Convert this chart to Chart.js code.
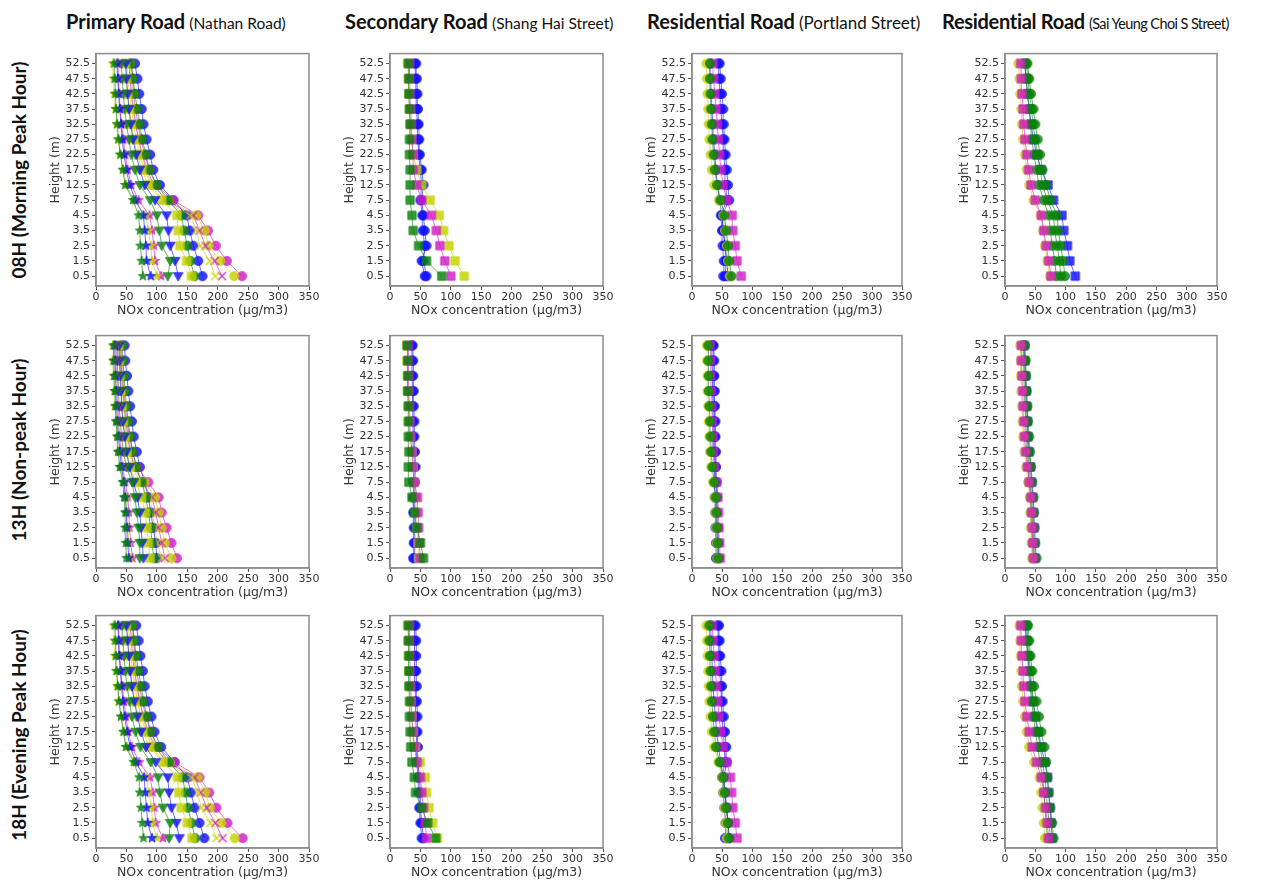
<!DOCTYPE html>
<html>
<head>
<meta charset="utf-8">
<script src="https://cdn.jsdelivr.net/npm/chart.js@4.4.0/dist/chart.umd.min.js"></script>
<style>
body{margin:0;background:#fff;width:1276px;height:885px;position:relative;overflow:hidden;font-family:Lato,sans-serif}
canvas{position:absolute}
.colt{position:absolute;top:9px;white-space:nowrap;color:#111;line-height:24px}
.colt b{font-size:20px}
.colt span{font-size:15.5px}
.rowt{position:absolute;font-weight:bold;font-size:19px;transform:translate(-50%,-50%) rotate(-90deg);white-space:nowrap;color:#111}
</style>
</head>
<body>
<div class="colt" style="left:66px"><b>Primary Road</b> <span>(Nathan Road)</span></div>
<div class="colt" style="left:345px"><b>Secondary Road</b> <span>(Shang Hai Street)</span></div>
<div class="colt" style="left:647px"><b>Residential Road</b> <span style="font-size:17px">(Portland Street)</span></div>
<div class="colt" style="left:942px"><b style="letter-spacing:-0.3px">Residential Road</b> <span style="font-size:14.5px;letter-spacing:-0.6px">(Sai Yeung Choi S Street)</span></div>
<div class="rowt" style="left:18px;top:170px">08H (Morning Peak Hour)</div>
<div class="rowt" style="left:18px;top:450px">13H (Non-peak Hour)</div>
<div class="rowt" style="left:18px;top:735px">18H (Evening Peak Hour)</div>
<script>
// tick labels
const heightLabels = ['0.5','1.5','2.5','3.5','4.5','7.5','12.5','17.5','22.5','27.5','32.5','37.5','42.5','47.5','52.5'];
const xTickValues = [0,50,100,150,200,250,300,350];

// Primary Road (Nathan Road), values bottom (0.5 m) to top (52.5 m)
const primary08 = [
  [77,75,73,72,70,61,48,44,40,37,35,33,32,31,30],
  [90,83,82,80,78,65,55,50,46,43,41,39,37,36,35],
  [100,92,90,86,82,62,50,45,40,36,34,32,30,29,28],
  [107,97,95,92,88,70,58,52,48,45,42,40,38,37,36],
  [118,122,108,104,100,89,72,64,58,54,50,47,45,43,42],
  [135,130,122,119,116,97,80,72,66,61,57,54,52,50,49],
  [157,149,138,135,133,108,86,75,68,62,58,55,52,50,48],
  [162,155,150,145,140,119,100,88,82,76,72,68,64,61,58],
  [196,187,171,165,155,110,90,80,72,66,62,58,55,53,51],
  [207,195,180,170,160,115,95,84,76,70,65,61,58,56,54],
  [227,204,185,179,165,119,92,82,75,70,66,62,60,58,56],
  [240,215,197,184,168,127,98,88,80,74,69,65,62,60,58],
  [175,168,160,154,149,127,105,94,89,83,78,75,71,68,64]
];
const primary13 = [
  [50,49,48,48,46,44,39,36,35,33,32,31,30,29,29],
  [54,52,51,50,48,46,42,39,37,35,34,33,32,31,31],
  [56,54,52,51,50,46,40,37,35,33,31,30,29,28,28],
  [60,57,55,54,52,48,44,41,39,37,36,35,34,33,33],
  [72,72,70,67,64,59,50,45,42,40,38,37,36,35,35],
  [78,76,74,72,68,62,55,50,47,44,42,41,40,39,38],
  [89,86,84,81,75,66,56,51,48,45,43,41,39,38,37],
  [95,92,90,86,82,75,66,60,56,53,50,48,46,44,43],
  [108,100,97,92,89,72,60,54,50,47,45,43,41,40,39],
  [113,108,103,98,92,76,63,56,52,49,46,44,42,41,40],
  [124,113,108,103,97,80,64,57,53,50,47,45,43,42,41],
  [133,124,116,108,103,86,68,60,55,51,48,46,44,43,42],
  [100,98,94,90,86,80,72,67,62,59,56,53,51,48,47]
];
const primary18 = [
  [78,76,74,72,71,62,49,45,41,38,36,34,33,32,31],
  [92,85,83,81,79,66,56,51,47,44,42,40,38,37,36],
  [100,93,91,87,83,63,51,46,41,37,35,33,31,30,29],
  [110,98,96,93,89,71,59,53,49,46,43,41,39,38,37],
  [120,122,110,105,102,90,73,65,59,55,51,48,46,44,43],
  [137,132,124,120,118,98,82,74,68,63,59,56,54,52,50],
  [158,150,140,136,134,110,88,77,70,64,60,57,54,52,50],
  [163,157,151,147,142,120,102,90,84,78,74,70,66,63,60],
  [198,188,173,167,157,112,92,82,74,68,64,60,57,55,53],
  [208,196,182,172,162,117,97,86,78,72,67,63,60,58,56],
  [228,206,187,180,167,121,94,84,77,72,68,64,62,60,58],
  [241,216,198,186,170,129,100,90,82,76,71,67,64,62,60],
  [178,170,162,156,150,129,107,96,91,85,80,77,73,70,66]
];

// Secondary Road (Shang Hai Street)
const secondary08 = [
  [85,60,47,38,36,33,33,33,32,32,33,32,31,31,30],
  [100,90,82,76,68,52,44,38,38,36,35,34,33,32,32],
  [122,107,97,88,81,66,52,44,38,35,33,32,31,30,29],
  [60,55,57,54,53,50,52,50,47,46,45,44,43,42,41],
  [57,52,60,57,55,52,55,52,49,48,47,46,45,44,43]
];
const secondary13 = [
  [55,50,44,40,36,31,30,31,30,30,30,29,29,29,28],
  [50,48,47,46,45,40,37,36,34,33,32,31,31,30,30],
  [47,46,44,43,42,40,38,36,33,31,30,29,29,28,28],
  [38,39,39,38,38,38,40,39,38,38,37,37,36,36,36],
  [40,41,41,40,40,41,42,41,40,40,39,39,38,38,37]
];
const secondary18 = [
  [75,62,52,42,40,36,34,33,32,32,31,31,31,30,30],
  [60,58,55,52,50,44,40,37,36,35,34,33,33,32,32],
  [78,70,64,60,58,50,42,38,36,34,32,31,30,30,29],
  [52,50,48,47,46,44,44,43,42,42,41,41,40,40,40],
  [55,52,50,50,48,46,46,45,45,44,44,43,43,43,42]
];

// Residential Road (Portland Street)
const portland08 = [
  [66,62,60,57,54,48,42,38,36,34,33,32,31,30,30],
  [63,60,58,55,52,45,37,33,31,29,28,27,26,25,24],
  [82,75,72,68,67,58,52,48,46,44,42,40,38,36,35],
  [60,58,55,52,50,46,42,40,38,36,35,33,32,31,30],
  [52,53,51,50,48,58,56,55,53,52,50,48,47,45,44],
  [55,57,55,52,50,62,60,58,56,54,53,52,50,48,46]
];
const portland13 = [
  [44,43,42,41,40,37,34,32,31,30,29,28,28,27,27],
  [42,41,40,39,38,35,32,30,29,28,27,26,26,25,25],
  [47,46,45,44,43,41,38,36,35,34,33,32,31,31,30],
  [40,40,39,39,38,38,37,36,36,35,35,34,34,33,33],
  [42,42,41,41,40,40,39,38,38,37,37,36,36,35,35],
  [45,44,43,42,42,41,40,40,39,39,38,38,37,37,36]
];
const portland18 = [
  [62,60,57,55,52,46,40,37,35,33,32,31,30,29,29],
  [58,56,54,52,50,44,37,33,31,29,28,27,26,25,24],
  [75,72,68,66,64,58,52,48,45,43,41,39,37,35,34],
  [62,60,57,54,52,48,44,41,39,37,35,34,33,32,31],
  [55,56,54,52,50,55,54,52,50,49,48,46,45,44,43],
  [60,60,58,55,53,58,57,55,53,51,50,49,47,46,45]
];

// Residential Road (Sai Yeung Choi S Street)
const saiyeung08 = [
  [76,72,68,64,60,50,43,39,36,33,31,30,28,27,26],
  [74,70,66,63,59,47,40,36,33,30,28,27,25,24,22],
  [85,82,78,75,72,64,56,52,48,44,42,40,37,35,32],
  [92,90,86,82,80,70,62,58,54,50,46,44,40,38,35],
  [99,96,92,88,86,75,68,62,58,54,50,47,43,40,37],
  [116,107,103,97,94,80,71,60,52,47,43,40,37,35,33]
];
const saiyeung13 = [
  [47,46,45,44,43,40,37,34,32,31,30,29,28,27,27],
  [45,44,43,42,41,38,35,32,30,29,28,27,26,26,25],
  [46,45,44,43,42,40,38,36,35,34,33,32,31,30,30],
  [48,47,46,45,44,42,40,38,37,36,35,34,33,32,31],
  [52,50,49,48,47,45,43,41,40,38,37,36,35,34,33],
  [50,49,48,47,46,44,42,40,38,37,36,35,34,33,32]
];
const saiyeung18 = [
  [72,70,67,64,60,52,45,40,36,33,31,30,28,27,26],
  [66,64,62,60,57,48,40,36,33,30,28,27,26,25,24],
  [70,68,66,64,62,58,54,50,47,44,41,39,37,35,33],
  [75,73,70,68,66,62,58,54,50,47,44,42,40,38,36],
  [80,78,75,72,70,68,65,60,56,52,48,45,42,40,38],
  [78,76,74,72,70,66,60,55,50,46,43,40,38,36,35]
];

// marker shape + colour for each series of a road type
const COLORS = {b:'#1010ff', g:'#0a820a', m:'#cf1fc6', y:'#c6d200'};
const primaryStyles = [['*','g'],['*','b'],['*','y'],['*','m'],['v','g'],['v','b'],['s','y'],['o','g'],['x','y'],['x','m'],['o','y'],['o','m'],['o','b']];
const secondaryStyles = [['s','g'],['s','m'],['s','y'],['o','b'],['o','b']];
const portlandStyles = [['o','g'],['o','y'],['s','m'],['o','b'],['o','b'],['o','b']];
const saiyeungStyles = [['s','m'],['o','y'],['o','g'],['o','g'],['o','g'],['s','b']];

function markerCanvas(shape, color) {
    const c = document.createElement('canvas');
    const s = 14;
    c.width = s; c.height = s;
    const x = c.getContext('2d');
    x.translate(s/2, s/2);
    x.fillStyle = color; x.strokeStyle = color;
    x.globalAlpha = 0.82;
    x.beginPath();
    if (shape === 'o') x.arc(0, 0, 4.6, 0, Math.PI*2);
    else if (shape === 's') x.rect(-4.2, -4.2, 8.4, 8.4);
    else if (shape === 'v') { x.moveTo(-4.9,-3.6); x.lineTo(4.9,-3.6); x.lineTo(0,4.9); x.closePath(); }
    else if (shape === '*') {
        for (let i = 0; i < 10; i++) {
            const r = i % 2 ? 2.1 : 5.0, a = -Math.PI/2 + i*Math.PI/5;
            x.lineTo(r*Math.cos(a), r*Math.sin(a));
        }
        x.closePath();
    } else if (shape === 'x') {
        x.lineWidth = 1.6;
        x.moveTo(-4,-4); x.lineTo(4,4); x.moveTo(4,-4); x.lineTo(-4,4);
        x.stroke();
        return c;
    }
    x.fill();
    x.lineWidth = 0.8; x.stroke();
    return c;
}

const framePlugin = {
    id: 'frame',
    afterDraw(ch) {
        const a = ch.chartArea, c = ch.ctx;
        c.save();
        c.strokeStyle = '#8c8c8c'; c.lineWidth = 1.5;
        c.strokeRect(a.left, a.top, a.right - a.left, a.bottom - a.top);
        c.restore();
    }
};

const colFrames = [[96,213],[390,213],[692,210],[1005,212]];
const rowTops = [51,333,613];
const FRAME_H = 235;
const panels = [
    [0,0,primary08,primaryStyles],[0,1,secondary08,secondaryStyles],[0,2,portland08,portlandStyles],[0,3,saiyeung08,saiyeungStyles],
    [1,0,primary13,primaryStyles],[1,1,secondary13,secondaryStyles],[1,2,portland13,portlandStyles],[1,3,saiyeung13,saiyeungStyles],
    [2,0,primary18,primaryStyles],[2,1,secondary18,secondaryStyles],[2,2,portland18,portlandStyles],[2,3,saiyeung18,saiyeungStyles]
];

const tickFont = {family:'DejaVu Sans', size:11};
const titleFont = {family:'DejaVu Sans', size:12.5};

panels.forEach(([r, c, series, styles]) => {
    const [fl, fw] = colFrames[c];
    const ft = rowTops[r];
    const cv = document.createElement('canvas');
    const W = fw + 48 + 14, H = FRAME_H + 6 + 32;
    cv.width = W; cv.height = H;
    cv.style.left = (fl - 48) + 'px';
    cv.style.top = (ft - 6) + 'px';
    cv.style.width = W + 'px'; cv.style.height = H + 'px';
    document.body.appendChild(cv);

    const datasets = series.map((vals, i) => {
        const [shape, col] = styles[i];
        const color = COLORS[col];
        return {
            data: vals.map((v, j) => ({x: v, y: j})),
            showLine: true,
            borderColor: color + 'b0',
            borderWidth: 0.9,
            pointStyle: markerCanvas(shape, color),
            pointRadius: 4
        };
    });

    new Chart(cv, {
        type: 'scatter',
        data: {datasets},
        options: {
            responsive: false, animation: false, devicePixelRatio: 1,
            layout: {padding: {left: 0, top: 6, right: 14, bottom: 0}},
            plugins: {legend: {display: false}, tooltip: {enabled: false}},
            scales: {
                x: {
                    type: 'linear', min: 0, max: 350,
                    afterBuildTicks: s => { s.ticks = xTickValues.map(v => ({value: v})); },
                    afterFit: s => { s.height = 32; },
                    grid: {drawOnChartArea: false, tickLength: 4, color: '#555'},
                    border: {color: '#8c8c8c', width: 1.5},
                    ticks: {font: tickFont, color: '#333', padding: 1, maxRotation: 0, autoSkip: false},
                    title: {display: true, text: 'NOx concentration (µg/m3)', font: titleFont, color: '#333', padding: {top: 0, bottom: 0}}
                },
                y: {
                    type: 'linear', min: -0.65, max: 14.65,
                    afterBuildTicks: s => { s.ticks = heightLabels.map((_, i) => ({value: i})); },
                    afterFit: s => { s.width = 48; },
                    grid: {drawOnChartArea: false, tickLength: 4, color: '#555'},
                    border: {color: '#8c8c8c', width: 1.5},
                    ticks: {font: tickFont, color: '#333', padding: 2, autoSkip: false, callback: v => heightLabels[v]},
                    title: {display: true, text: 'Height (m)', font: titleFont, color: '#333', padding: {top: 0, bottom: 0}}
                }
            }
        },
        plugins: [framePlugin]
    });
});
</script>
</body>
</html>
